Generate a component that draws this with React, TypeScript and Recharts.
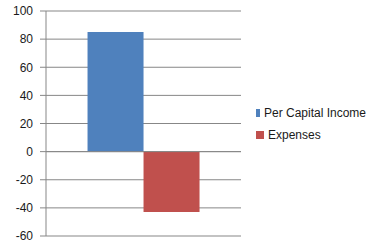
import { BarChart, Bar, XAxis, YAxis, CartesianGrid, Legend, ReferenceLine } from "recharts";

const categories = ["2015"];
const perCapitalIncome = [85];
const expenses = [-43];
const yTicks = [-60, -40, -20, 0, 20, 40, 60, 80, 100];

const data = categories.map((c, i) => ({
  name: c,
  income: perCapitalIncome[i],
  expenses: expenses[i],
}));

const FONT = "'Liberation Sans', Arial, sans-serif";

const legendItems = [
  { label: "Per Capital Income", color: "#4F81BD" },
  { label: "Expenses", color: "#C0504D" },
];

const LegendBox = () => (
  <div style={{ width: 125, paddingLeft: 15, boxSizing: "border-box", fontFamily: FONT, fontSize: 12, color: "#1a1a1a" }}>
    {legendItems.map((it) => (
      <div key={it.label} style={{ height: 22, display: "flex", alignItems: "center" }}>
        <span style={{ width: 8, height: 8, background: it.color, display: "inline-block", marginRight: 4 }} />
        <span style={{ whiteSpace: "nowrap" }}>{it.label}</span>
      </div>
    ))}
  </div>
);

const App = () => {
  return (
    <div style={{ position: "absolute", left: 0, top: 0, width: 381, height: 248, background: "#fff" }}>
      <BarChart
        width={381}
        height={248}
        data={data}
        margin={{ top: 11, right: 15, bottom: 12, left: 0 }}
        barCategoryGap="21.3%"
        barGap={0}
      >
        <CartesianGrid vertical={false} stroke="#878787" />
        <XAxis dataKey="name" hide />
        <YAxis
          domain={[-60, 100]}
          ticks={yTicks}
          width={46}
          tickSize={6}
          tickMargin={7}
          stroke="#878787"
          tick={{ fill: "#1a1a1a", fontSize: 12, fontFamily: FONT }}
        />
        <ReferenceLine y={0} stroke="#878787" />
        <Legend
          layout="vertical"
          align="right"
          verticalAlign="middle"
          width={125}
          content={() => <LegendBox />}
        />
        <Bar dataKey="income" fill="#4F81BD" isAnimationActive={false} />
        <Bar dataKey="expenses" fill="#C0504D" isAnimationActive={false} />
      </BarChart>
    </div>
  );
};

export default App;
